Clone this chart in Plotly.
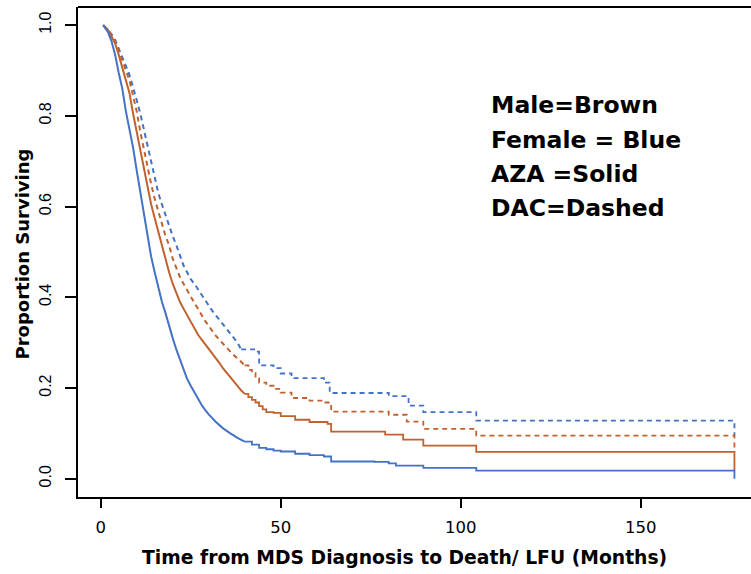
import plotly.graph_objects as go

# Kaplan-Meier curves (time in months, proportion surviving)
female_aza_t = [0.7, 2, 3, 4, 5, 6, 7, 8, 9, 10, 11, 12, 13, 14, 15, 16, 17, 18, 19, 20,
                21, 22, 23, 24, 25, 26, 27, 28, 29, 30, 32, 34, 36, 38, 40, 42, 44, 46, 48, 50,
                54, 58, 62, 64, 76, 80, 82, 89.6, 104.3, 176, 176]
female_aza_s = [1.0, 0.985, 0.965, 0.935, 0.895, 0.86, 0.81, 0.77, 0.73, 0.68, 0.63, 0.585, 0.535, 0.49, 0.455, 0.42, 0.39, 0.365, 0.335, 0.31,
                0.285, 0.262, 0.24, 0.22, 0.205, 0.19, 0.177, 0.163, 0.152, 0.142, 0.125, 0.111, 0.1, 0.09, 0.082, 0.075, 0.068, 0.065, 0.062, 0.06,
                0.055, 0.052, 0.049, 0.038, 0.037, 0.034, 0.029, 0.024, 0.018, 0.018, 0.0]

male_aza_t = [0.7, 2, 3, 4, 5, 6, 7, 8, 9, 10, 11, 12, 13, 14, 15, 16, 17, 18, 19, 20,
              21, 22, 23, 24, 25, 26, 27, 28, 29, 30, 31, 32, 33, 34, 35, 36, 37, 38, 39, 40,
              41, 42, 43, 44, 45, 46, 48, 50, 54, 58, 63, 64, 79, 84, 89.6, 104.3, 176, 176]
male_aza_s = [1.0, 0.99, 0.975, 0.96, 0.935, 0.905, 0.88, 0.85, 0.805, 0.765, 0.725, 0.685, 0.645, 0.605, 0.575, 0.545, 0.515, 0.48, 0.455, 0.43,
              0.41, 0.39, 0.375, 0.36, 0.345, 0.33, 0.318, 0.307, 0.297, 0.285, 0.275, 0.265, 0.255, 0.243, 0.233, 0.225, 0.215, 0.205, 0.195, 0.187,
              0.18, 0.174, 0.168, 0.16, 0.153, 0.147, 0.145, 0.138, 0.13, 0.125, 0.121, 0.104, 0.097, 0.086, 0.073, 0.059, 0.059, 0.018]

male_dac_t = [0.7, 2, 3, 4, 5, 6, 7, 8, 9, 10, 11, 12, 13, 14, 15, 16, 17, 18, 19, 20,
              21, 22, 23, 24, 25, 26, 27, 28, 29, 30, 31, 32, 33, 34, 35, 36, 37, 38, 39, 40,
              41, 42, 43, 44, 46, 48, 50, 53, 58, 62, 64, 80, 85, 89.6, 104.3, 176, 176]
male_dac_s = [1.0, 0.99, 0.978, 0.965, 0.945, 0.92, 0.9, 0.878, 0.845, 0.81, 0.765, 0.725, 0.69, 0.65, 0.617, 0.59, 0.56, 0.535, 0.515, 0.485,
              0.465, 0.445, 0.43, 0.415, 0.4, 0.388, 0.375, 0.36, 0.348, 0.337, 0.325, 0.315, 0.306, 0.297, 0.288, 0.28, 0.272, 0.265, 0.258, 0.25,
              0.24, 0.233, 0.222, 0.212, 0.205, 0.198, 0.19, 0.178, 0.172, 0.168, 0.148, 0.141, 0.126, 0.11, 0.095, 0.095, 0.059]

female_dac_t = [0.7, 2, 3, 4, 5, 6, 7, 8, 9, 10, 11, 12, 13, 14, 15, 16, 17, 18, 19, 20,
                21, 22, 23, 24, 25, 26, 27, 28, 29, 30, 31, 32, 33, 34, 35, 36, 37, 38, 39, 43,
                44, 48, 50, 53, 62, 63.6, 80, 85.5, 89.6, 104.3, 176, 176]
female_dac_s = [1.0, 0.99, 0.98, 0.968, 0.95, 0.93, 0.91, 0.89, 0.865, 0.835, 0.805, 0.77, 0.74, 0.705, 0.67, 0.63, 0.605, 0.58, 0.555, 0.535,
                0.515, 0.49, 0.47, 0.455, 0.44, 0.43, 0.418, 0.405, 0.393, 0.383, 0.37, 0.36, 0.35, 0.34, 0.33, 0.32, 0.31, 0.3, 0.285, 0.28,
                0.25, 0.244, 0.232, 0.222, 0.212, 0.189, 0.182, 0.161, 0.147, 0.128, 0.128, 0.095]

x_ticks = [0, 50, 100, 150]
y_ticks = [0.0, 0.2, 0.4, 0.6, 0.8, 1.0]
legend_lines = ["Male=Brown", "Female = Blue", "AZA =Solid", "DAC=Dashed"]

BLUE = "#4472C4"
BROWN = "#C0622F"
SPLIT_T = 40  # dense early part drawn as connected line, sparse late part as steps

fig = go.Figure()
series = [
    (female_dac_t, female_dac_s, BLUE, "5px,4px"),
    (male_dac_t, male_dac_s, BROWN, "5px,4px"),
    (male_aza_t, male_aza_s, BROWN, "solid"),
    (female_aza_t, female_aza_s, BLUE, "solid"),
]
for t, s, c, d in series:
    k = max(i for i, v in enumerate(t) if v <= SPLIT_T)
    fig.add_trace(go.Scatter(x=t[:k + 1], y=s[:k + 1], mode="lines",
                             line=dict(color=c, width=2, dash=d, shape="linear"),
                             showlegend=False, hoverinfo="skip"))
    fig.add_trace(go.Scatter(x=t[k:], y=s[k:], mode="lines",
                             line=dict(color=c, width=1.8, dash=d, shape="hv"),
                             showlegend=False, hoverinfo="skip"))

fig.update_layout(
    width=751, height=574,
    margin=dict(l=78, r=0, t=7, b=77),
    paper_bgcolor="white", plot_bgcolor="white",
    xaxis=dict(range=[-6.3, 180.6], tickvals=x_ticks, ticktext=[str(v) for v in x_ticks],
               showgrid=False, zeroline=False, showline=True, linecolor="black", linewidth=2,
               ticks="outside", ticklen=9, tickwidth=2, tickcolor="black", automargin=False,
               ticklabelstandoff=5,
               tickfont=dict(family="DejaVu Sans", size=16.5, color="black")),
    yaxis=dict(range=[-0.0403, 1.040], tickvals=y_ticks, ticktext=[f"{v:.1f}" for v in y_ticks],
               showgrid=False, zeroline=False, showline=True, linecolor="black", linewidth=2,
               ticks="outside", ticklen=11, tickwidth=2, tickcolor="black", tickangle=-90,
               automargin=False, ticklabelstandoff=8,
               tickfont=dict(family="Liberation Sans", size=16, color="black")),
    shapes=[dict(type="line", xref="paper", yref="paper", x0=0, x1=1, y0=1, y1=1,
                 line=dict(color="black", width=2))],
)

annotations = [
    dict(text="<b>Time from MDS Diagnosis to Death/ LFU (Months)</b>", xref="paper", yref="paper",
         x=(404 - 78) / 673, y=(497 - 557) / 490, xanchor="center", yanchor="middle", showarrow=False,
         font=dict(family="DejaVu Sans", size=18.75, color="black")),
    dict(text="<b>Proportion Surviving</b>", xref="paper", yref="paper", textangle=-90,
         x=(22 - 78) / 673, y=(497 - 254.5) / 490, xanchor="center", yanchor="middle", showarrow=False,
         font=dict(family="DejaVu Sans", size=18, color="black")),
]
legend_y = [104.5, 139.5, 174, 208]
for txt, py in zip(legend_lines, legend_y):
    annotations.append(dict(text=f"<b>{txt}</b>", xref="paper", yref="paper",
                            x=(489 - 78) / 673, y=(497 - py) / 490, xanchor="left", yanchor="middle",
                            showarrow=False, font=dict(family="DejaVu Sans", size=23.5, color="black")))
fig.update_layout(annotations=annotations)

fig.write_html("out.html", config={"displayModeBar": False},
               post_script="document.body.style.margin='0';document.body.style.padding='0';")
